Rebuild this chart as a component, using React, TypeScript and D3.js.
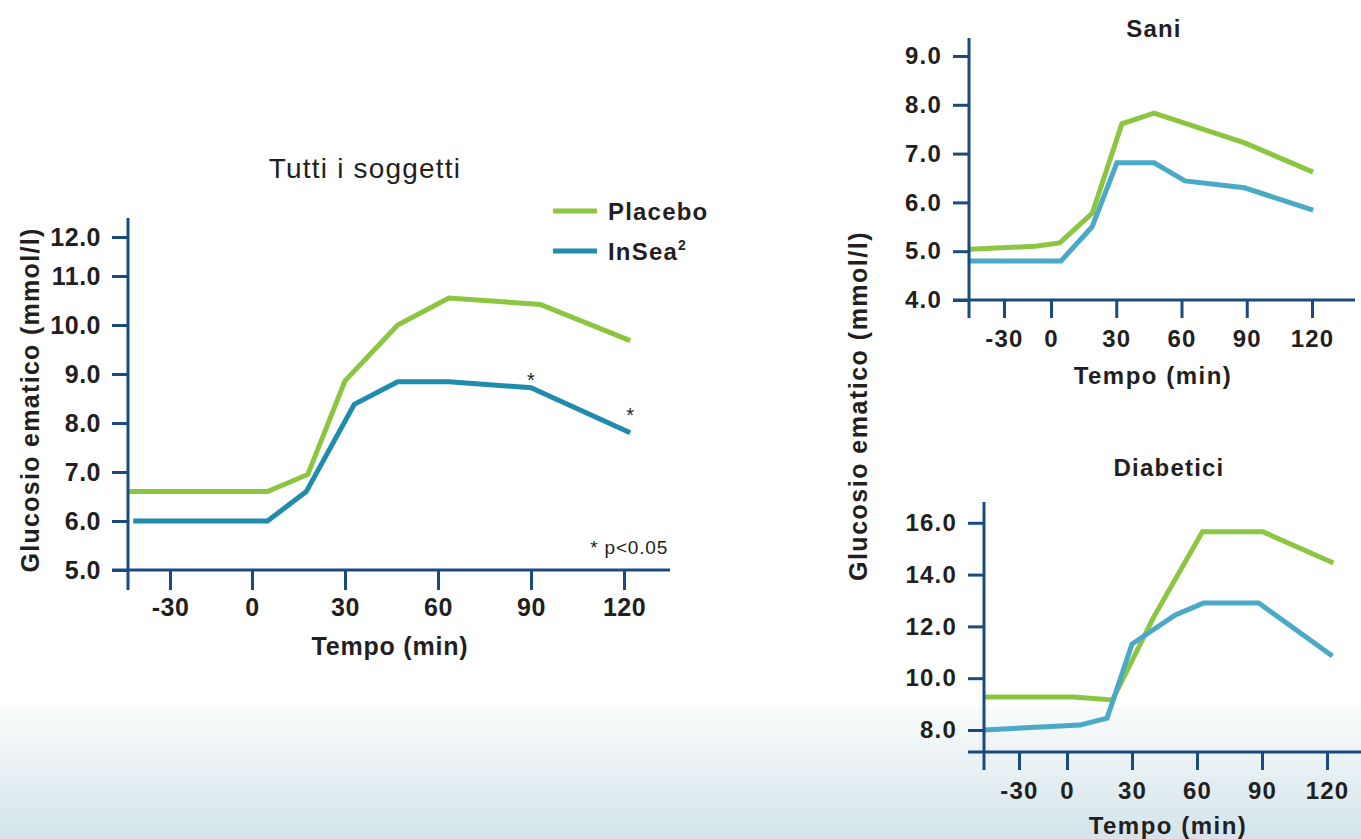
import React from "react";
import * as d3 from "d3";

// minutes on the x axis
const minuteTicks = [-30, 0, 30, 60, 90, 120];

// Tutti i soggetti
const allTicksY = [5, 6, 7, 8, 9, 10, 11, 12];
const allPlaceboT = [-45, 5, 18, 30, 47, 63.5, 93, 122];
const allPlaceboV = [6.6, 6.6, 6.95, 8.86, 10.0, 10.55, 10.42, 9.68];
const allInseaT = [-43.5, 5, 17.5, 33, 47, 63.5, 90, 122];
const allInseaV = [6.0, 6.0, 6.6, 8.38, 8.84, 8.84, 8.72, 7.8];
const allStarT = [90, 122];
const allStarV = [8.98, 8.27];

// Sani
const saniTicksY = [4, 5, 6, 7, 8, 9];
const saniPlaceboT = [-52, -10, 4, 19, 32.6, 47.4, 89, 120.5];
const saniPlaceboV = [5.04, 5.1, 5.17, 5.78, 7.61, 7.83, 7.22, 6.62];
const saniInseaT = [-52, 4.6, 18.9, 30.3, 47.4, 61.6, 89, 120.5];
const saniInseaV = [4.8, 4.8, 5.5, 6.81, 6.81, 6.44, 6.3, 5.84];

// Diabetici
const diabTicksY = [8, 10, 12, 14, 16];
const diabPlaceboT = [-52, 3, 21, 40, 62.5, 90.5, 123];
const diabPlaceboV = [9.27, 9.27, 9.16, 12.36, 15.65, 15.65, 14.45];
const diabInseaT = [-52, 6, 18.5, 30, 50, 63, 88.5, 122.5];
const diabInseaV = [8.0, 8.19, 8.46, 11.32, 12.44, 12.9, 12.9, 10.86];

const GREEN = "#8cc641";
const BLUE_DARK = "#1f8cab";
const BLUE_LIGHT = "#4ba9c8";
const AXIS = "#1b4b7c";
const INK = "#231f20";
const FONT = "'Liberation Sans', Arial, Helvetica, sans-serif";

type PanelProps = {
  xScale: d3.ScaleLinear<number, number>;
  yScale: d3.ScaleLinear<number, number>;
  yTicks: number[];
  top: number;
  right: number;
  xTickLen: number;
  xPad: number;
  fontSize: number;
  spacing: number;
  series: { t: number[]; v: number[]; color: string }[];
};

function Panel({ xScale, yScale, yTicks, top, right, xTickLen, xPad, fontSize, spacing, series }: PanelProps) {
  const xRef = React.useRef<SVGGElement>(null);
  const yRef = React.useRef<SVGGElement>(null);
  const left = xScale(xScale.domain()[0]);
  const bottom = yScale(yScale.domain()[0]);

  React.useEffect(() => {
    const styleText = (sel: any) =>
      sel
        .attr("fill", INK)
        .style("font-family", FONT)
        .style("font-weight", "bold")
        .style("font-size", fontSize + "px")
        .style("letter-spacing", spacing + "px");

    const xAxis = d3
      .axisBottom(xScale)
      .tickValues(minuteTicks)
      .tickSize(xTickLen)
      .tickPadding(xPad)
      .tickFormat((d) => String(d));
    d3.select(xRef.current)
      .call(xAxis)
      .call((g) => g.select(".domain").remove())
      .call((g) => g.selectAll(".tick line").attr("stroke", AXIS).attr("stroke-width", 3))
      .selectAll("text")
      .call(styleText);

    const yAxis = d3
      .axisLeft(yScale)
      .tickValues(yTicks)
      .tickSize(16)
      .tickPadding(11)
      .tickFormat(d3.format(".1f"));
    d3.select(yRef.current)
      .call(yAxis)
      .call((g) => g.select(".domain").remove())
      .call((g) => g.selectAll(".tick line").attr("stroke", AXIS).attr("stroke-width", 3))
      .selectAll("text")
      .call(styleText);
  }, [xScale, yScale, yTicks, xTickLen, xPad, fontSize, spacing]);

  const lineGen = d3
    .line<[number, number]>()
    .x((d) => xScale(d[0]))
    .y((d) => yScale(d[1]));

  return (
    <g>
      {series.map((s, k) => (
        <path
          key={k}
          d={lineGen(s.t.map((t, i) => [t, s.v[i]] as [number, number])) || ""}
          fill="none"
          stroke={s.color}
          strokeWidth={5}
        />
      ))}
      <g ref={xRef} transform={`translate(0,${bottom})`} />
      <g ref={yRef} transform={`translate(${left},0)`} />
      <line x1={left} x2={left} y1={top} y2={bottom + xTickLen} stroke={AXIS} strokeWidth={3} />
      <line x1={left - 16} x2={right} y1={bottom} y2={bottom} stroke={AXIS} strokeWidth={3} />
    </g>
  );
}

export default function App() {
  const allX = d3.scaleLinear().domain([-45.4, -30, 0, 120]).range([128, 170, 252, 624]);
  const allY = d3.scaleLinear().domain([5, 11, 12]).range([570, 276, 237]);

  const saniX = d3.scaleLinear().domain([-52.3, -30, 0, 120]).range([969, 1004, 1051, 1312]);
  const saniY = d3.scaleLinear().domain([4, 9]).range([300, 56]);

  const diabX = d3.scaleLinear().domain([-51.9, -30, 0, 120]).range([984, 1019, 1067, 1327]);
  const diabY = d3.scaleLinear().domain([7.15, 16]).range([752, 522.8]);

  return (
    <svg width={1361} height={839} style={{ position: "absolute", left: 0, top: 0 }} fontFamily={FONT}>
      <defs>
        <linearGradient id="bg" x1="0" y1="0" x2="0" y2="1">
          <stop offset="0" stopColor="#fafbfb" />
          <stop offset="1" stopColor="#d3e4ea" />
        </linearGradient>
      </defs>
      <rect x={0} y={0} width={1361} height={839} fill="#ffffff" />
      <rect x={0} y={707} width={1361} height={132} fill="url(#bg)" />

      {/* Tutti i soggetti */}
      <text x={365} y={178} textAnchor="middle" fontSize={28} letterSpacing={1.2} fill={INK}>
        Tutti i soggetti
      </text>
      <Panel
        xScale={allX}
        yScale={allY}
        yTicks={allTicksY}
        top={218}
        right={670}
        xTickLen={20}
        xPad={8}
        fontSize={25}
        spacing={0.5}
        series={[
          { t: allPlaceboT, v: allPlaceboV, color: GREEN },
          { t: allInseaT, v: allInseaV, color: BLUE_DARK },
        ]}
      />
      {allStarT.map((t, i) => (
        <text key={i} x={allX(t)} y={allY(allStarV[i]) + 12} textAnchor="middle" fontSize={20} fill={INK}>
          *
        </text>
      ))}
      <text x={668} y={554} textAnchor="end" fontSize={19} letterSpacing={0.8} fill={INK}>
        * p&lt;0.05
      </text>
      <text x={390} y={655} textAnchor="middle" fontSize={25} letterSpacing={0.8} fontWeight="bold" fill={INK}>
        Tempo (min)
      </text>
      <text
        transform="translate(39,400) rotate(-90)"
        textAnchor="middle"
        fontSize={25}
        letterSpacing={1.3}
        fontWeight="bold"
        fill={INK}
      >
        Glucosio ematico (mmol/l)
      </text>

      {/* legend */}
      <line x1={553} x2={597} y1={211} y2={211} stroke={GREEN} strokeWidth={5} />
      <text x={608} y={220} fontSize={24} letterSpacing={1.2} fontWeight="bold" fill={INK}>
        Placebo
      </text>
      <line x1={553} x2={597} y1={251} y2={251} stroke={BLUE_DARK} strokeWidth={5} />
      <text x={608} y={260} fontSize={24} letterSpacing={1.2} fontWeight="bold" fill={INK}>
        InSea
        <tspan dy={-10} fontSize={14}>
          2
        </tspan>
      </text>

      {/* Sani */}
      <text x={1154} y={37} textAnchor="middle" fontSize={24} letterSpacing={1.2} fontWeight="bold" fill={INK}>
        Sani
      </text>
      <Panel
        xScale={saniX}
        yScale={saniY}
        yTicks={saniTicksY}
        top={38}
        right={1355}
        xTickLen={18}
        xPad={12}
        fontSize={24}
        spacing={1.2}
        series={[
          { t: saniPlaceboT, v: saniPlaceboV, color: GREEN },
          { t: saniInseaT, v: saniInseaV, color: BLUE_LIGHT },
        ]}
      />
      <text x={1153} y={384} textAnchor="middle" fontSize={24} letterSpacing={1.5} fontWeight="bold" fill={INK}>
        Tempo (min)
      </text>

      {/* Diabetici */}
      <text x={1169} y={476} textAnchor="middle" fontSize={24} letterSpacing={1.2} fontWeight="bold" fill={INK}>
        Diabetici
      </text>
      <Panel
        xScale={diabX}
        yScale={diabY}
        yTicks={diabTicksY}
        top={502}
        right={1361}
        xTickLen={18}
        xPad={12}
        fontSize={24}
        spacing={1.2}
        series={[
          { t: diabPlaceboT, v: diabPlaceboV, color: GREEN },
          { t: diabInseaT, v: diabInseaV, color: BLUE_LIGHT },
        ]}
      />
      <text x={1168} y={834} textAnchor="middle" fontSize={24} letterSpacing={1.5} fontWeight="bold" fill={INK}>
        Tempo (min)
      </text>

      <text
        transform="translate(867,406) rotate(-90)"
        textAnchor="middle"
        fontSize={25}
        letterSpacing={1.5}
        fontWeight="bold"
        fill={INK}
      >
        Glucosio ematico (mmol/l)
      </text>
    </svg>
  );
}
